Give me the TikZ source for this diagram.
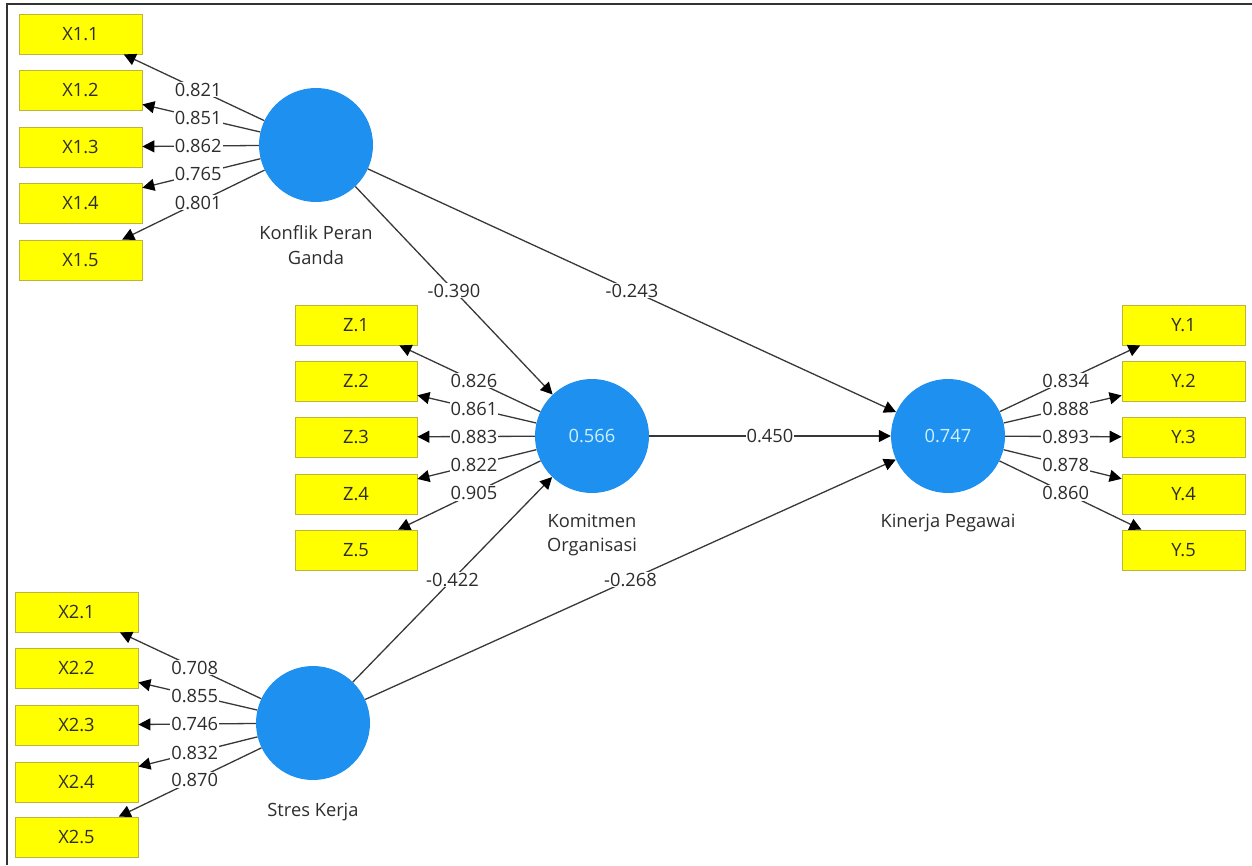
\documentclass[tikz,border=0pt]{standalone}
\usepackage{fontspec}
\setmainfont{Open Sans}
\usetikzlibrary{arrows.meta,calc}
\definecolor{latblue}{RGB}{30,144,240}
\definecolor{indfill}{RGB}{255,255,0}
\definecolor{indline}{RGB}{190,180,60}
\definecolor{txt}{RGB}{45,45,45}
\definecolor{lntxt}{RGB}{205,240,255}
\begin{document}
\begin{tikzpicture}[x=1pt,y=-1pt,
  ind/.style={draw=indline, line width=0.8pt, fill=indfill, minimum width=123pt, minimum height=40pt, inner sep=0pt, font=\fontsize{18.3}{21}\selectfont, text=txt},
  lat/.style={circle, fill=latblue, minimum size=114pt, inner sep=0pt, font=\fontsize{18.3}{21}\selectfont, text=lntxt},
  latname/.style={align=center, font=\fontsize{18.3}{24.5}\selectfont, text=txt},
  lnk/.style={draw=black!78, line width=1.3pt, -{Triangle[length=12pt,width=12pt,color=black]}},
  lbl/.style={fill=white, inner sep=1pt, font=\fontsize{18.3}{21}\selectfont, text=txt}]
\useasboundingbox (0,0) rectangle (1252,865);
\draw[line width=1.2pt, black!80] (7,865) -- (7,4) -- (1252,4);

% latent variables
\node[lat] (K) at (316,145) {};
\node[lat] (C) at (592,436) {0.566};
\node[lat] (P) at (948,436) {0.747};
\node[lat] (S) at (313,723) {};
\node[latname] (Kn) at (316,245) {Konflik Peran\\Ganda};
\node[latname] (Cn) at (592,535) {Komitmen\\Organisasi};
\node[latname] (Pn) at (948,523) {Kinerja Pegawai};
\node[latname] (Sn) at (313,812) {Stres Kerja};

% indicators
\foreach \i/\y in {1/34,2/90,3/147,4/203,5/260} \node[ind] (X1-\i) at (80.5,\y) {X1.\i};
\foreach \i/\y in {1/325,2/381,3/437,4/494,5/550} \node[ind, minimum width=122pt] (Z-\i) at (356,\y) {Z.\i};
\foreach \i/\y in {1/325,2/381,3/437,4/494,5/550} \node[ind] (Y-\i) at (1183.5,\y) {Y.\i};
\foreach \i/\y in {1/612,2/668,3/725,4/782,5/837} \node[ind] (X2-\i) at (76.5,\y) {X2.\i};

% connectors
\foreach \i in {1,...,5} {
  \draw[lnk] (K) -- (X1-\i);
  \draw[lnk] (C) -- (Z-\i);
  \draw[lnk] (P) -- (Y-\i);
  \draw[lnk] (S) -- (X2-\i);
}
\draw[lnk] (K) -- (C);
\draw[lnk] (K) -- (P);
\draw[lnk] (C) -- (P);
\draw[lnk] (S) -- (C);
\draw[lnk] (S) -- (P);

% labels
\foreach \i/\v in {1/0.821,2/0.851,3/0.862,4/0.765,5/0.801}
  \node[lbl] at ($(K)!0.5!(X1-\i)$) {\v};
\foreach \i/\v in {1/0.826,2/0.861,3/0.883,4/0.822,5/0.905}
  \node[lbl] at ($(C)!0.5!(Z-\i)$) {\v};
\foreach \i/\v in {1/0.834,2/0.888,3/0.893,4/0.878,5/0.860}
  \node[lbl] at ($(P)!0.5!(Y-\i)$) {\v};
\foreach \i/\v in {1/0.708,2/0.855,3/0.746,4/0.832,5/0.870}
  \node[lbl] at ($(S)!0.5!(X2-\i)$) {\v};
\node[lbl] at ($(K)!0.5!(C)$) {-0.390};
\node[lbl] at ($(K)!0.5!(P)$) {-0.243};
\node[lbl] at ($(C)!0.5!(P)$) {0.450};
\node[lbl] at ($(S)!0.5!(C)$) {-0.422};
\node[lbl] at ($(S)!0.5!(P)$) {-0.268};
\end{tikzpicture}
\end{document}
